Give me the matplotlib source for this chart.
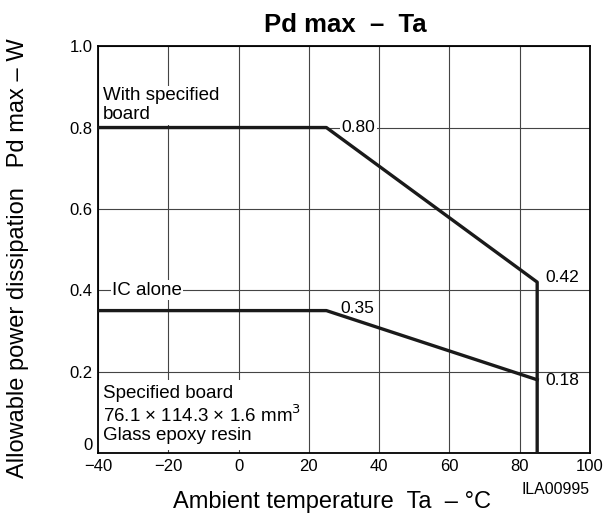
import matplotlib
matplotlib.use("Agg")
import matplotlib.pyplot as plt

plt.rcParams['font.family'] = ['Liberation Sans', 'DejaVu Sans']

# derating curves (Ta in degC, Pd in W)
board_ta = [-40, 25, 85, 85]
board_pd = [0.80, 0.80, 0.42, 0.0]
ic_ta = [-40, 25, 85]
ic_pd = [0.35, 0.35, 0.18]

xticks = [-40, -20, 0, 20, 40, 60, 80, 100]
xticklabels = ['\u221240', '\u221220', '0', '20', '40', '60', '80', '100']
yticks = [0, 0.2, 0.4, 0.6, 0.8, 1.0]
yticklabels = ['0', '0.2', '0.4', '0.6', '0.8', '1.0']

fig = plt.figure(figsize=(6.05, 5.13), dpi=100)
ax = fig.add_axes([0.162, 0.117, 0.813, 0.793])

ax.set_xlim(-40, 100)
ax.set_ylim(0, 1.0)
ax.set_xticks(xticks)
ax.set_xticklabels(xticklabels)
ax.set_yticks(yticks)
ax.set_yticklabels(yticklabels)
ax.tick_params(direction='in', length=0, labelsize=12, pad=4)
ax.get_yticklabels()[0].set_va('bottom')  # the "0" sits just above the x axis
ax.grid(True, color='#444444', linewidth=0.8)
for s in ax.spines.values():
    s.set_linewidth(1.3)

ax.plot(board_ta, board_pd, color='#1a1a1a', linewidth=2.4, zorder=3)
ax.plot(ic_ta, ic_pd, color='#1a1a1a', linewidth=2.4, zorder=3)

wbox = dict(facecolor='white', edgecolor='none', pad=1)
ax.text(-38.5, 0.81, 'With specified\nboard', fontsize=13.5, va='bottom', ha='left',
        bbox=wbox, linespacing=1.2, zorder=2)
ax.text(29.4, 0.8, '0.80', fontsize=12.5, va='center', ha='left', bbox=wbox, zorder=2)
ax.text(87.2, 0.432, '0.42', fontsize=12.5, va='center', ha='left', zorder=4)
ax.text(-36, 0.4, 'IC alone', fontsize=13.5, va='center', ha='left', bbox=wbox, zorder=2)
ax.text(29, 0.356, '0.35', fontsize=12.5, va='center', ha='left', zorder=4)
ax.text(87.2, 0.177, '0.18', fontsize=12.5, va='center', ha='left', zorder=4)
ax.text(-38.5, 0.032, 'Specified board\n76.1 \u00d7 114.3 \u00d7 1.6 mm$^3$\nGlass epoxy resin',
        fontsize=13.5, va='baseline', ha='left', linespacing=1.1,
        bbox=dict(facecolor='white', edgecolor='none', pad=4), zorder=2)

fig.text(0.57, 0.951, 'Pd max  \u2013  Ta', fontsize=18.5, fontweight='bold', ha='center', va='center')
fig.text(0.03, 0.497, 'Allowable power dissipation   Pd max \u2013 W', fontsize=17,
         rotation=90, ha='center', va='center')
fig.text(0.549, 0.022, 'Ambient temperature  Ta  \u2013 \u00b0C', fontsize=17, ha='center', va='center')
fig.text(0.975, 0.045, 'ILA00995', fontsize=11.4, ha='right', va='center')

fig.savefig('out.png', dpi=100)
